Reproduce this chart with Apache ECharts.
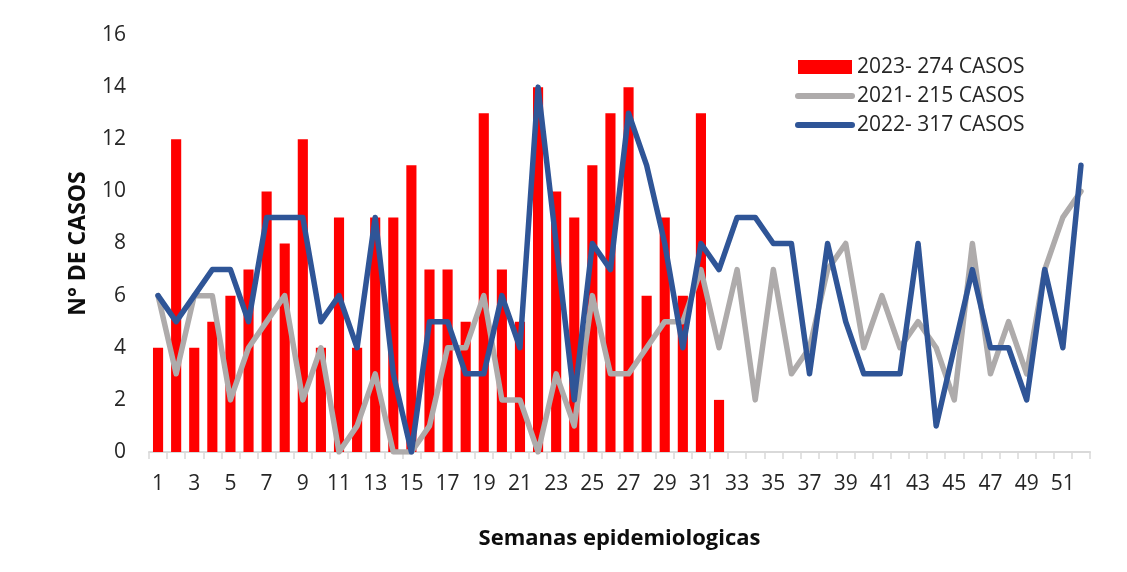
<!DOCTYPE html>
<html>
<head>
<meta charset="utf-8">
<script src="https://cdn.jsdelivr.net/npm/echarts@6/dist/echarts.min.js"></script>
<style>
  html, body { margin: 0; padding: 0; background: #ffffff; }
  #chart { width: 1127px; height: 572px; }
</style>
</head>
<body>
<div id="chart"></div>
<script>
// Categories: epidemiological weeks 1..52
const weeks = ["1","2","3","4","5","6","7","8","9","10","11","12","13","14","15","16","17","18","19","20",
  "21","22","23","24","25","26","27","28","29","30","31","32","33","34","35","36","37","38","39","40",
  "41","42","43","44","45","46","47","48","49","50","51","52"];

// 2023 cases (bars), weeks 1..32
const cases2023 = [4,12,4,5,6,7,10,8,12,4,9,4,9,9,11,7,7,5,13,7,5,14,10,9,11,13,14,6,9,6,13,2];

// 2021 cases (gray line)
const cases2021 = [6,3,6,6,2,4,5,6,2,4,0,1,3,0,0,1,4,4,6,2,2,0,3,1,6,3,3,4,5,5,7,4,7,2,7,3,4,7,8,4,
  6,4,5,4,2,8,3,5,3,7,9,10];

// 2022 cases (blue line)
const cases2022 = [6,5,6,7,7,5,9,9,9,5,6,4,9,3,0,5,5,3,3,6,4,14,8,2,8,7,13,11,8,4,8,7,9,9,8,8,3,8,5,3,
  3,3,8,1,4,7,4,4,2,7,4,11];

const seriesNames = ["2023- 274 CASOS", "2021- 215 CASOS", "2022- 317 CASOS"];
const yTitle = "N° DE CASOS";
const xTitle = "Semanas epidemiologicas";

const FONT = "'Open Sans', 'Noto Sans', sans-serif";
const chart = echarts.init(document.getElementById('chart'), null, { renderer: 'canvas' });

chart.setOption({
  animation: false,
  backgroundColor: '#ffffff',
  textStyle: { fontFamily: FONT },
  grid: { left: 149, right: 37, top: 35, bottom: 120, containLabel: false },
  legend: {
    orient: 'vertical',
    left: 795,
    top: 56,
    padding: 0,
    itemWidth: 54,
    itemHeight: 14,
    itemGap: 7,
    textStyle: { fontFamily: FONT, fontSize: 21, color: '#262626', lineHeight: 22 },
    data: [
      { name: seriesNames[0], icon: 'rect' },
      { name: seriesNames[1], itemStyle: { opacity: 0 }, lineStyle: { width: 6, cap: 'round', color: '#aeabab' } },
      { name: seriesNames[2], itemStyle: { opacity: 0 }, lineStyle: { width: 6, cap: 'round', color: '#2f5597' } }
    ]
  },
  xAxis: {
    type: 'category',
    data: weeks,
    boundaryGap: true,
    name: xTitle,
    nameLocation: 'middle',
    nameGap: 76,
    nameTextStyle: { fontFamily: FONT, fontSize: 22, fontWeight: 'bold', color: '#0d0d0d' },
    axisLine: { show: true, lineStyle: { color: '#d9d9d9', width: 2 } },
    axisTick: { show: true, alignWithLabel: false, interval: 0, length: 7, lineStyle: { color: '#d9d9d9', width: 1.5 } },
    axisLabel: { interval: 1, margin: 22, fontFamily: FONT, fontSize: 21, color: '#262626' },
    splitLine: { show: false }
  },
  yAxis: {
    type: 'value',
    min: 0,
    max: 16,
    interval: 2,
    name: yTitle,
    nameLocation: 'middle',
    nameGap: 59,
    nameRotate: 90,
    nameTextStyle: { fontFamily: FONT, fontSize: 23, fontWeight: 'bold', color: '#0d0d0d' },
    axisLine: { show: false },
    axisTick: { show: false },
    axisLabel: { margin: 23, fontFamily: FONT, fontSize: 21, color: '#262626' },
    splitLine: { show: false }
  },
  series: [
    {
      name: seriesNames[0],
      type: 'bar',
      data: cases2023,
      barWidth: '56%',
      itemStyle: { color: '#ff0000' },
      z: 1
    },
    {
      name: seriesNames[1],
      type: 'line',
      data: cases2021,
      symbol: 'none',
      lineStyle: { color: '#aeabab', width: 5.5, join: 'round', cap: 'round' },
      itemStyle: { color: '#aeabab' },
      z: 2
    },
    {
      name: seriesNames[2],
      type: 'line',
      data: cases2022,
      symbol: 'none',
      lineStyle: { color: '#2f5597', width: 5.5, join: 'round', cap: 'round' },
      itemStyle: { color: '#2f5597' },
      z: 3
    }
  ]
});
</script>
</body>
</html>
